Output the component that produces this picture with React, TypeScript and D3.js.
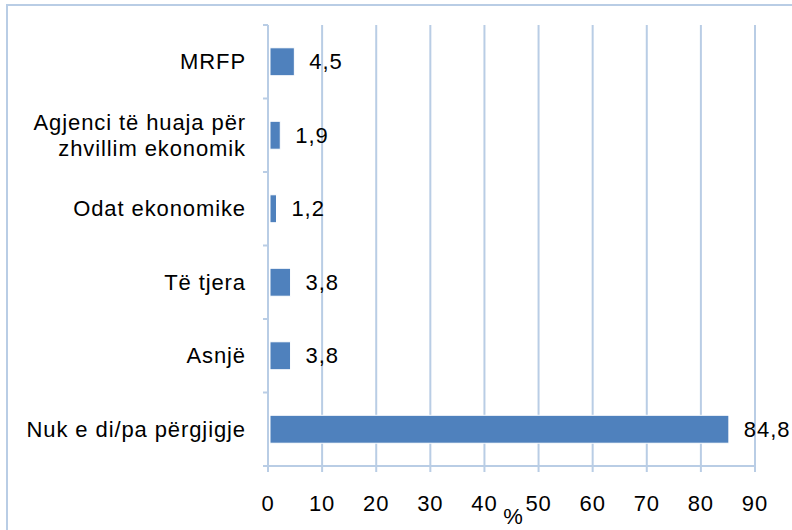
import React from "react";
import * as d3 from "d3";

const categories = [
  "MRFP",
  "Agjenci të huaja për|zhvillim ekonomik",
  "Odat ekonomike",
  "Të tjera",
  "Asnjë",
  "Nuk e di/pa përgjigje",
];
const values = [4.5, 1.9, 1.2, 3.8, 3.8, 84.8];
const valueLabels = ["4,5", "1,9", "1,2", "3,8", "3,8", "84,8"];
const xTicks = [0, 10, 20, 30, 40, 50, 60, 70, 80, 90];
const axisTitle = "%";

const W = 792;
const H = 530;
const left = 268;
const right = 755;
const top = 25;
const bottom = 466;
const gridColor = "#B9CDE5";
const barColor = "#4F81BD";
const font = "'Liberation Sans', Arial, sans-serif";

export default function App() {
  const x = d3.scaleLinear().domain([0, 90]).range([left, right]);
  const y = d3.scaleBand<number>().domain(d3.range(categories.length)).range([top, bottom]).paddingInner(0.62).paddingOuter(0.31);
  const band = (bottom - top) / categories.length;
  const bounds = d3.range(categories.length + 1).map((i) => top + i * band);
  const fs = 22;
  const ls = 0.9;
  return (
    <svg width={W} height={H} style={{ position: "absolute", left: 0, top: 0 }} fontFamily={font}>
      <rect x={0} y={0} width={W} height={H} fill="white" />
      <rect x={7} y={5} width={W + 20} height={H + 20} fill="none" stroke={gridColor} strokeWidth={2} />
      {xTicks.map((t) => (
        <line key={"g" + t} x1={x(t)} x2={x(t)} y1={top} y2={bottom + 6} stroke={gridColor} strokeWidth={2} />
      ))}
      <line x1={left} x2={right} y1={bottom} y2={bottom} stroke={gridColor} strokeWidth={2} />
      {bounds.map((b, i) => (
        <line key={"t" + i} x1={left - 5} x2={left} y1={b} y2={b} stroke={gridColor} strokeWidth={2} />
      ))}
      {values.map((v, i) => (
        <rect key={"b" + i} x={x(0) + 2} y={y(i)} width={x(v) - x(0)} height={y.bandwidth()} fill={barColor} stroke="white" strokeWidth={1} />
      ))}
      {values.map((v, i) => (
        <text key={"v" + i} x={x(v) + 17} y={(y(i) as number) + y.bandwidth() / 2} dy="0.35em" fontSize={fs} letterSpacing={ls} fill="#000">
          {valueLabels[i]}
        </text>
      ))}
      {categories.map((c, i) => {
        const lines = c.split("|");
        const cy = top + (i + 0.5) * band;
        return (
          <text key={"c" + i} x={246} y={cy} textAnchor="end" fontSize={fs} letterSpacing={ls} fill="#000">
            {lines.map((l, j) => (
              <tspan key={j} x={246} y={cy + (j - (lines.length - 1) / 2) * 26} dy="0.35em">
                {l}
              </tspan>
            ))}
          </text>
        );
      })}
      {xTicks.map((t) => (
        <text key={"x" + t} x={x(t)} y={503} dy="0.35em" textAnchor="middle" fontSize={fs} letterSpacing={ls} fill="#000">
          {t}
        </text>
      ))}
      <text x={513} y={516} dy="0.35em" textAnchor="middle" fontSize={fs} fill="#000">
        {axisTitle}
      </text>
    </svg>
  );
}
